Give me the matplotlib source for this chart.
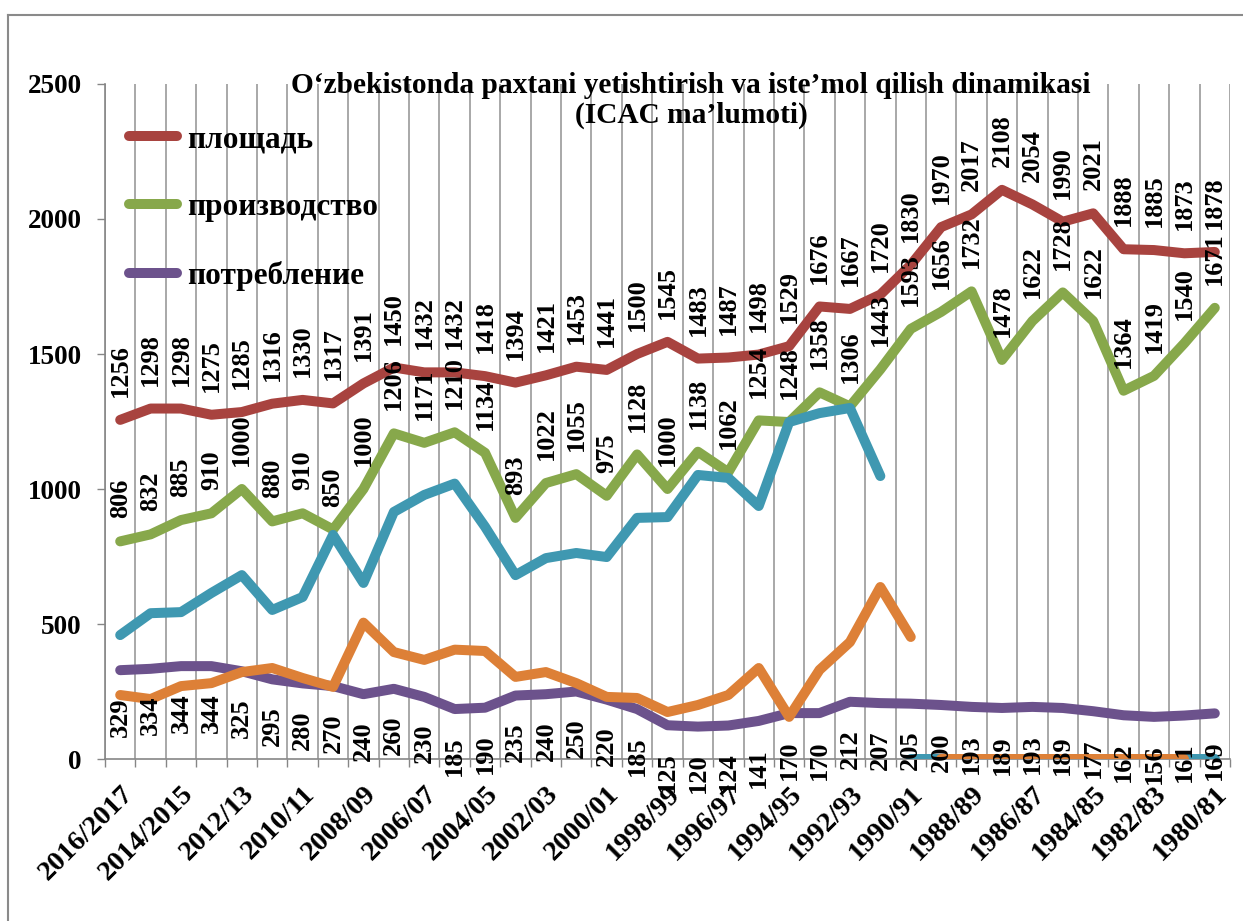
import numpy as np
import matplotlib
matplotlib.use("Agg")
import matplotlib.pyplot as plt
from matplotlib.lines import Line2D

plt.rcParams['font.family'] = ['Liberation Serif', 'DejaVu Serif']
plt.rcParams['font.weight'] = 'bold'

# ---------------- data ----------------
seasons = ["2016/2017", "2015/2016", "2014/2015", "2013/2014", "2012/13", "2011/12",
           "2010/11", "2009/10", "2008/09", "2007/08", "2006/07", "2005/06",
           "2004/05", "2003/04", "2002/03", "2001/02", "2000/01", "1999/00",
           "1998/99", "1997/98", "1996/97", "1995/96", "1994/95", "1993/94",
           "1992/93", "1991/92", "1990/91", "1989/90", "1988/89", "1987/88",
           "1986/87", "1985/86", "1984/85", "1983/84", "1982/83", "1981/82",
           "1980/81"]

area = [1256, 1298, 1298, 1275, 1285, 1316, 1330, 1317, 1391, 1450, 1432, 1432,
        1418, 1394, 1421, 1453, 1441, 1500, 1545, 1483, 1487, 1498, 1529, 1676,
        1667, 1720, 1830, 1970, 2017, 2108, 2054, 1990, 2021, 1888, 1885, 1873, 1878]

production = [806, 832, 885, 910, 1000, 880, 910, 850, 1000, 1206, 1171, 1210,
              1134, 893, 1022, 1055, 975, 1128, 1000, 1138, 1062, 1254, 1248, 1358,
              1306, 1443, 1593, 1656, 1732, 1478, 1622, 1728, 1622, 1364, 1419, 1540, 1671]

consumption = [329, 334, 344, 344, 325, 295, 280, 270, 240, 260, 230, 185,
               190, 235, 240, 250, 220, 185, 125, 120, 124, 141, 170, 170,
               212, 207, 205, 200, 193, 189, 193, 189, 177, 162, 156, 161, 169]

# unlabeled series (not in legend)
series4 = [459, 540, 544, 615, 681, 552, 600, 830, 652, 915, 978, 1020,
           860, 681, 744, 763, 748, 893, 896, 1052, 1041, 937, 1248, 1281,
           1300, 1048, 0, 0, 0, 0, 0, 0, 0, 0, 0, 0, 0]
series5 = [237, 222, 270, 281, 322, 337, 300, 267, 505, 396, 367, 405,
           400, 304, 322, 281, 230, 226, 174, 200, 237, 337, 156, 330,
           433, 637, 452, 0, 0, 0, 0, 0, 0, 0, 0, 0, None]

legend_names = ["площадь", "производство", "потребление"]
title_line1 = "O‘zbekistonda paxtani yetishtirish va iste’mol qilish dinamikasi"
title_line2 = "(ICAC ma’lumoti)"

c_area = "#A8433F"
c_prod = "#87A84B"
c_cons = "#6C528C"
c_s4 = "#3F98B1"
c_s5 = "#DD8037"

W, H = 1243, 921
fig = plt.figure(figsize=(W / 100, H / 100), dpi=100)
ax = fig.add_axes([105 / W, 1 - 759 / H, (1230 - 105) / W, (759 - 84) / H])

x = np.arange(len(seasons))


def runs(vals):
    """split series into runs: gaps at None and at jumps into a zero tail"""
    segs, cur = [], []
    prev = None
    for i, v in enumerate(vals):
        if v is None:
            if cur:
                segs.append(cur)
            cur = []
            prev = None
            continue
        if prev is not None and prev != 0 and v == 0:
            segs.append(cur)
            cur = []
        cur.append((i, v))
        prev = v
    if cur:
        segs.append(cur)
    return segs


lw = 7.2
kw = dict(solid_capstyle='round', solid_joinstyle='round', linewidth=lw)
ax.plot(x, area, color=c_area, zorder=3, **kw)
ax.plot(x, production, color=c_prod, zorder=4, **kw)
ax.plot(x, consumption, color=c_cons, zorder=5, **kw)
for vals, col, z in [(series4, c_s4, 6), (series5, c_s5, 7)]:
    for seg in runs(vals):
        xs, ys = zip(*seg)
        ax.plot(xs, ys, color=col, zorder=z, **kw)

lab_fs = 19
for i in x:
    ax.annotate(str(area[i]), (i, area[i]), xytext=(0, 16.5), textcoords='offset points',
                rotation=90, ha='center', va='bottom', fontsize=lab_fs,
                fontweight='bold', zorder=10)
    ax.annotate(str(production[i]), (i, production[i]), xytext=(0, 16.5),
                textcoords='offset points', rotation=90, ha='center', va='bottom',
                fontsize=lab_fs, fontweight='bold', zorder=10)
    ax.annotate(str(consumption[i]), (i, consumption[i]), xytext=(0, -19.5),
                textcoords='offset points', rotation=90, ha='center', va='top',
                fontsize=lab_fs, fontweight='bold', zorder=10)

ax.set_xlim(-0.5, len(seasons) - 0.5)
ax.set_ylim(0, 2500)
ax.set_yticks([0, 500, 1000, 1500, 2000, 2500])
ax.tick_params(axis='y', length=5.8, width=1, color='#868686', labelsize=19.5, pad=11)

ax.set_xticks(x[::2])
ax.set_xticklabels(seasons[::2], rotation=45, ha='right', va='top',
                   rotation_mode='anchor', fontsize=20.5)
ax.set_xticks(np.arange(-0.5, len(seasons), 1.0), minor=True)
ax.tick_params(axis='x', which='major', length=0, pad=16)
ax.tick_params(axis='x', which='minor', length=6, width=1, color='#868686')
ax.grid(axis='x', which='minor', color='#9a9a9a', linewidth=1.2, zorder=0)
ax.grid(axis='x', which='major', visible=False)
ax.grid(axis='y', visible=False)
for s in ['top', 'right']:
    ax.spines[s].set_visible(False)
for s in ['left', 'bottom']:
    ax.spines[s].set_color('#868686')
    ax.spines[s].set_linewidth(1.2)
for lbl in ax.get_xticklabels() + ax.get_yticklabels():
    lbl.set_fontweight('bold')

fig.text(691 / W, 1 - 93 / H, title_line1, ha='center', va='baseline',
         fontsize=21.2, fontweight='bold', zorder=11)
fig.text(691 / W, 1 - 123 / H, title_line2, ha='center', va='baseline',
         fontsize=21.2, fontweight='bold', zorder=11)

handles = [Line2D([], [], color=c, linewidth=lw, solid_capstyle='round')
           for c in (c_area, c_prod, c_cons)]
leg = ax.legend(handles, legend_names, loc='upper left',
                bbox_to_anchor=(129 / W, 1 - 125 / H), bbox_transform=fig.transFigure,
                frameon=False, prop={'size': 22.5, 'weight': 'bold'},
                handlelength=1.55, handletextpad=0.3, labelspacing=1.25, borderpad=0,
                borderaxespad=0)
leg.set_zorder(12)

# outer chart frame (cropped)
fig.add_artist(Line2D([8 / W, 8 / W], [0, 1 - 15 / H], color='#8a8a8a', linewidth=1.5,
                      transform=fig.transFigure))
fig.add_artist(Line2D([8 / W, 1], [1 - 15 / H, 1 - 15 / H], color='#8a8a8a', linewidth=1.5,
                      transform=fig.transFigure))

fig.savefig("out.png", dpi=100)
